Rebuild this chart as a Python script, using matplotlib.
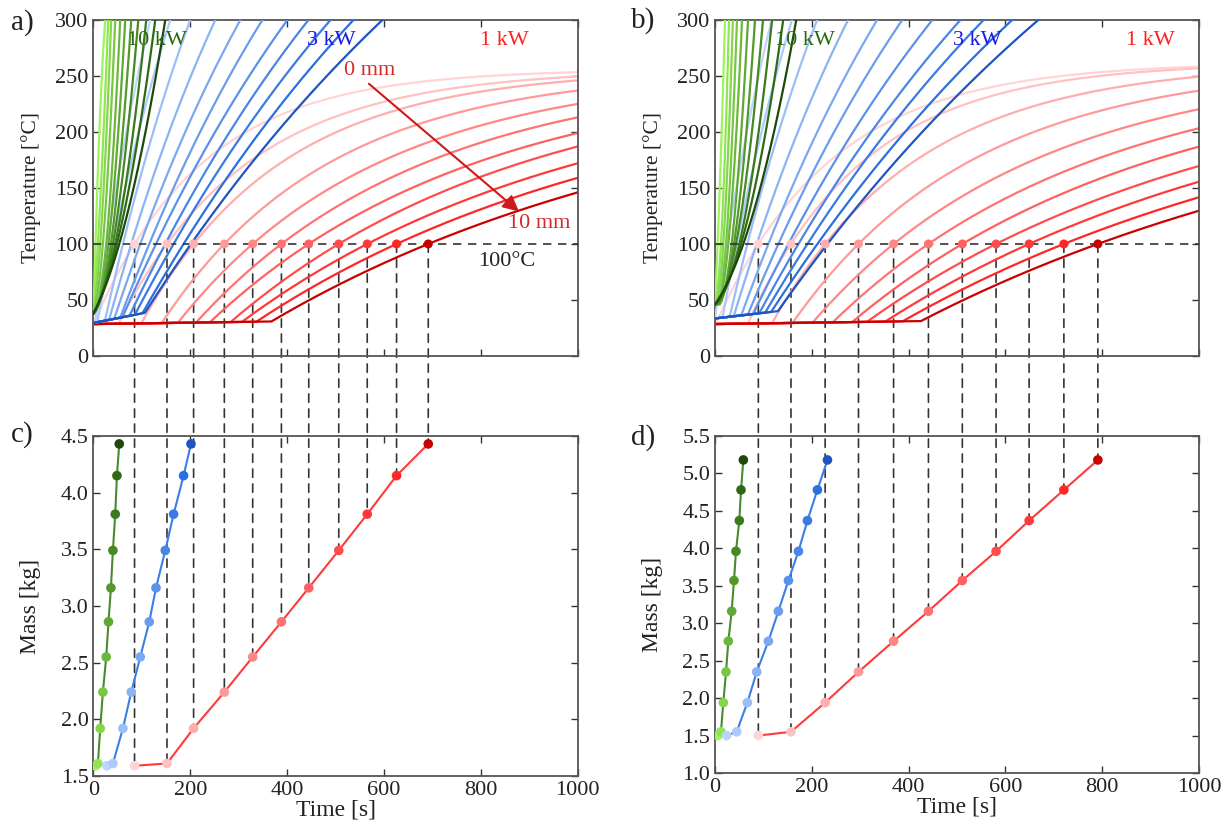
"""
Heating curves of the pot at three burner powers and 11 insulation
thicknesses (0-10 mm), and the mass/time at which 100 degC is reached.
"""

import numpy as np
import matplotlib.pyplot as plt
from matplotlib.patches import ConnectionPatch
from matplotlib.colors import to_rgb

plt.rcParams['font.family'] = ['Liberation Serif', 'DejaVu Serif']
plt.rcParams['mathtext.fontset'] = 'stix'

# ---------------- pot 1 (panels a, c) ----------------
mass_1 = [1.59, 1.61, 1.92, 2.24, 2.55, 2.86, 3.16, 3.49, 3.81, 4.15, 4.43]
# time to reach 100 degC [s]
t_boil_1kw_1 = [84.8, 151.8, 206.8, 270.3, 328.9, 388.2, 444.7, 506.7, 565.5, 626.1, 691.6]
t_boil_3kw_1 = [27.7, 40.1, 60.8, 78.0, 96.6, 115.2, 129.1, 148.3, 165.5, 186.1, 201.4]
t_boil_10kw_1 = [4.1, 9.1, 13.9, 19.4, 26.3, 31.0, 36.0, 40.1, 44.9, 48.4, 53.2]
# temperature at t = 1000 s (1 kW) and time to reach 300 degC (3 kW, 10 kW)
temp_end_1kw_1 = [252, 249.5, 246, 237, 225, 213, 199, 187, 172, 159, 146]
t_300_3kw_1 = [117.3, 158.6, 200.0, 251.7, 303.4, 348.9, 400.6, 444.0, 489.6, 537.1, 597.0]
t_300_10kw_1 = [24.2, 30.4, 36.6, 44.9, 55.2, 65.6, 78.0, 92.5, 109.0, 127.6, 148.3]

# ---------------- pot 2 (panels b, d) ----------------
mass_2 = [1.50, 1.55, 1.94, 2.35, 2.76, 3.16, 3.57, 3.96, 4.37, 4.78, 5.18]
t_boil_1kw_2 = [89.6, 157.0, 227.6, 296.5, 369.0, 441.0, 511.0, 580.7, 649.0, 720.8, 791.0]
t_boil_3kw_2 = [24.1, 44.9, 66.9, 86.3, 110.3, 131.0, 151.7, 172.4, 191.0, 211.6, 232.4]
t_boil_10kw_2 = [5.5, 12.4, 17.2, 22.8, 27.6, 34.5, 39.3, 43.4, 50.3, 53.8, 58.6]
temp_end_1kw_2 = [258.3, 256.8, 249.4, 236.9, 220.3, 203.3, 186.9, 169.6, 155.6, 141.7, 129.7]
t_300_3kw_2 = [120, 159, 211, 275, 335, 387, 449, 507, 555, 614, 668]
t_300_10kw_2 = [20.7, 29.0, 37.0, 45.5, 55.9, 68.3, 82.8, 99.3, 118.0, 141.0, 168.0]

# start temperature, slow pre-heating slope, end temperature of each power level
start_1 = {'1kw': (28.5, 0.006, 256.0), '3kw': (29.5, 0.085, 700.0), '10kw': 38.0}
start_2 = {'1kw': (28.5, 0.006, 262.0), '3kw': (33.5, 0.05, 700.0), '10kw': 46.0}

t = np.linspace(0, 1000, 4001)


def blend(c0, c1, n):
    c0, c1 = np.array(to_rgb(c0)), np.array(to_rgb(c1))
    return [tuple(c0 + (c1 - c0) * k / (n - 1)) for k in range(n)]


red_cols = blend('#ffd4d4', '#ff2626', 10) + [to_rgb('#c80000')]
blue_cols = blend('#bcd5ff', '#2a6fe0', 10) + [to_rgb('#1f55c0')]
green_cols = blend('#9cf55a', '#2e6a14', 10) + [to_rgb('#1d4a0c')]


def first_order(t_boil, t2, T2, T0, slope, T_inf):
    """Flat pre-heating, then first-order rise passing 100 degC at t_boil
    and T2 at t2."""
    T_on, t_on = T0, 0.0
    for _ in range(30):
        a = -np.log(1 - (100 - T_on) / (T_inf - T_on))
        b = -np.log(1 - (T2 - T_on) / (T_inf - T_on))
        tau = (t2 - t_boil) / (b - a)
        t_on = t_boil - a * tau
        if t_on <= 0:
            t_on, T_on = 0.0, T0
            tau = t_boil / -np.log(1 - (100 - T0) / (T_inf - T0))
            break
        T_on = T0 + slope * t_on
    rise = T_on + (T_inf - T_on) * (1 - np.exp(-(t - t_on) / tau))
    return np.where(t < t_on, T0 + slope * t, rise)


def fast_rise(t_boil, t300, T0):
    """Quadratic rise from T0 through 100 degC and 300 degC."""
    A = np.array([[t_boil, t_boil ** 2], [t300, t300 ** 2]])
    c, d = np.linalg.solve(A, [100 - T0, 300 - T0])
    return np.maximum.accumulate(T0 + c * t + d * t ** 2)


def style(ax):
    ax.set_facecolor('none')
    ax.tick_params(direction='in', top=True, right=True, length=5,
                   width=1.0, labelsize=16, colors='#333333', labelcolor='#222222')
    for s in ax.spines.values():
        s.set_color('#555555')
        s.set_linewidth(1.3)


def temp_panel(ax, tb1, Tend1, tb3, t3, tb10, t10, start):
    T0, sl, Tinf = start['1kw']
    for k in range(11):
        ax.plot(t, first_order(tb1[k], 1000, Tend1[k], T0, sl, Tinf),
                color=red_cols[k], lw=1.6, zorder=2)
    T0, sl, Tinf = start['3kw']
    for k in range(11):
        ax.plot(t, first_order(tb3[k], t3[k], 300, T0, sl, Tinf),
                color=blue_cols[k], lw=1.6, zorder=3)
    for k in range(11):
        ax.plot(t, fast_rise(tb10[k], t10[k], start['10kw']),
                color=green_cols[k], lw=1.6, zorder=4)
    ax.axhline(100, color='#333333', lw=1.2, ls=(0, (5, 4)), zorder=5)
    ax.scatter(tb1, [100] * 11, s=42, color=red_cols, zorder=6, lw=0)
    ax.set_xlim(0, 1000)
    ax.set_ylim(0, 300)
    ax.set_xticks(range(0, 1001, 200))
    ax.set_xticklabels([])
    ax.set_yticks(range(0, 301, 50))
    ax.set_ylabel('Temperature [°C]', fontsize=15.5, color='#222222', labelpad=10)
    style(ax)


def mass_panel(ax, mass, tb1, tb3, tb10):
    for tb, cols, lc in [(tb10, green_cols, '#4a8a2c'),
                         (tb3, blue_cols, '#3a7fe6'),
                         (tb1, red_cols, '#ff3a3a')]:
        ax.plot(tb, mass, color=lc, lw=1.5, zorder=3)
        ax.scatter(tb, mass, s=48, color=cols, zorder=4, lw=0)
    ax.set_xlim(0, 1000)
    ax.set_xticks(range(0, 1001, 200))
    ax.set_xlabel('Time [s]', fontsize=17, color='#222222', labelpad=0)
    ax.set_ylabel('Mass [kg]', fontsize=17, color='#222222', labelpad=14)
    style(ax)


fig = plt.figure(figsize=(12.27, 8.24), dpi=100)
ax_a = fig.add_axes([0.0762, 0.568, 0.3945, 0.4078])
ax_b = fig.add_axes([0.5827, 0.568, 0.3945, 0.4078])
ax_c = fig.add_axes([0.0762, 0.0583, 0.3945, 0.4126])
ax_d = fig.add_axes([0.5827, 0.0619, 0.3945, 0.409])

temp_panel(ax_a, t_boil_1kw_1, temp_end_1kw_1, t_boil_3kw_1, t_300_3kw_1,
           t_boil_10kw_1, t_300_10kw_1, start_1)
temp_panel(ax_b, t_boil_1kw_2, temp_end_1kw_2, t_boil_3kw_2, t_300_3kw_2,
           t_boil_10kw_2, t_300_10kw_2, start_2)

mass_panel(ax_c, mass_1, t_boil_1kw_1, t_boil_3kw_1, t_boil_10kw_1)
ax_c.set_ylim(1.5, 4.5)
ax_c.set_yticks(np.arange(1.5, 4.51, 0.5))
ax_c.set_yticklabels([f'{v:.1f}' for v in np.arange(1.5, 4.51, 0.5)])

mass_panel(ax_d, mass_2, t_boil_1kw_2, t_boil_3kw_2, t_boil_10kw_2)
ax_d.set_ylim(1.0, 5.5)
ax_d.set_yticks(np.arange(1.0, 5.51, 0.5))
ax_d.set_yticklabels([f'{v:.1f}' for v in np.arange(1.0, 5.51, 0.5)])

# power labels
for ax, xs in [(ax_a, (132, 491, 849)), (ax_b, (186, 542, 899))]:
    ax.text(xs[0], 282, '10 kW', color='#2a6a10', fontsize=16, ha='center', va='center', zorder=7)
    ax.text(xs[1], 282, '3 kW', color='#1a1aee', fontsize=16, ha='center', va='center', zorder=7)
    ax.text(xs[2], 282, '1 kW', color='#ff2020', fontsize=16, ha='center', va='center', zorder=7)

# thickness arrow and the 100 degC label
ax_a.text(570, 255, '0 mm', color='#d42a2a', fontsize=16, ha='center', va='center', zorder=7)
ax_a.text(920, 118, '10 mm', color='#d42a2a', fontsize=16, ha='center', va='center', zorder=7)
ax_a.annotate('', xy=(879, 129), xytext=(569, 243), zorder=7,
              arrowprops=dict(arrowstyle='-|>', color='#cc1a1a', lw=1.5,
                              mutation_scale=24, shrinkA=0, shrinkB=0))
ax_a.text(853, 84, '100°C', color='#222222', fontsize=16, ha='center', va='center', zorder=7)

# dashed drop lines from the 100 degC points to the mass panels
for ax_top, ax_bot, tb, mass in [(ax_a, ax_c, t_boil_1kw_1, mass_1),
                                 (ax_b, ax_d, t_boil_1kw_2, mass_2)]:
    for tk, mk in zip(tb, mass):
        con = ConnectionPatch(xyA=(tk, 100), coordsA=ax_top.transData,
                              xyB=(tk, mk), coordsB=ax_bot.transData,
                              color='#333333', lw=1.2, ls=(0, (5, 4)), zorder=-1)
        fig.add_artist(con)

for lab, x, y in [('a)', 0.018, 0.973), ('b)', 0.524, 0.975),
                  ('c)', 0.018, 0.473), ('d)', 0.524, 0.469)]:
    fig.text(x, y, lab, fontsize=21, ha='center', va='center', color='#222222')

fig.savefig('out.png', dpi=100, facecolor='white')
